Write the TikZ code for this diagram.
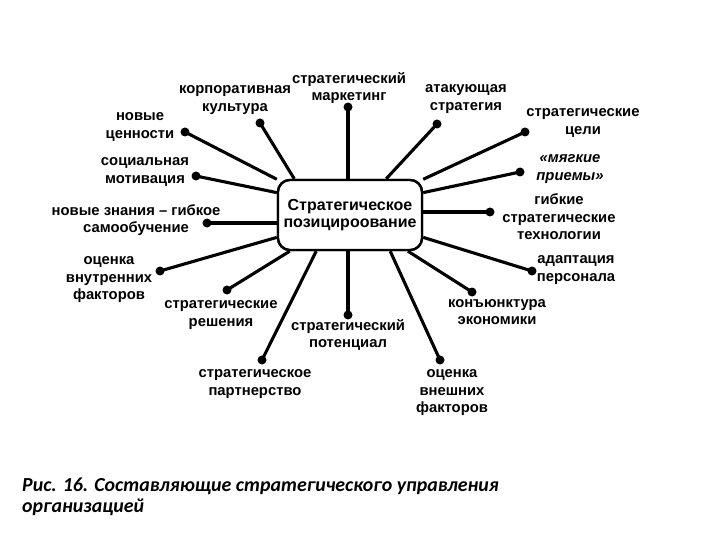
\documentclass[tikz,border=0pt]{standalone}
\usepackage{fontspec}
\setmainfont{Liberation Sans}
\newfontfamily\capfont{Carlito}
\begin{document}
\begin{tikzpicture}[x=1pt,y=-1pt,
  lbl/.style={align=center,inner sep=0pt,font=\fontsize{14.8}{17.5}\selectfont\bfseries},
  dot/.style={circle,fill=black,inner sep=0pt,minimum size=9pt},
  conn/.style={line width=3.1pt},
  hub/.style={draw,line width=2.4pt,rounded corners=12pt,fill=white,minimum width=144pt,minimum height=70pt,inner sep=0pt,align=center,font=\fontsize{16}{17}\selectfont\bfseries}]
\useasboundingbox (0,0) rectangle (720,540);
\fill[white] (0,0) rectangle (720,540);
\node[hub] (c) at (350,215) {};
% dots
\node[dot] (d1) at (185,132) {};
\node[dot] (d2) at (260,123) {};
\node[dot] (d3) at (348,107) {};
\node[dot] (d4) at (437,124) {};
\node[dot] (d5) at (525,132) {};
\node[dot] (d6) at (520,172) {};
\node[dot] (d7) at (490,212) {};
\node[dot] (d8) at (532,271) {};
\node[dot] (d9) at (472,292) {};
\node[dot] (d10) at (440,360) {};
\node[dot] (d11) at (348,315) {};
\node[dot] (d12) at (262,360) {};
\node[dot] (d13) at (227,290) {};
\node[dot] (d14) at (160,271) {};
\node[dot] (d15) at (207,223) {};
\node[dot] (d16) at (196,176) {};
% connectors
\draw[conn] (d1.center) -- (c.154);
\draw[conn] (d2.center) -- (c.147.5);
\draw[conn] (d3.center) -- (c.north -| d3);
\draw[conn] (d4.center) -- (c.45);
\draw[conn] (d5.center) -- (c.26);
\draw[conn] (d6.center) -- (c.17);
\draw[conn] (d7.center) -- (c.east |- d7);
\draw[conn] (d8.center) -- (c.-17);
\draw[conn] (d9.center) -- (c.-32);
\draw[conn] (d10.center) -- (c.-42);
\draw[conn] (d11.center) -- (c.south -| d11);
\draw[conn] (d12.center) -- (c.227);
\draw[conn] (d13.center) -- (c.211);
\draw[conn] (d14.center) -- (c.197);
\draw[conn] (d15.center) -- (c.west |- d15);
\draw[conn] (d16.center) -- (c.163);
\node[hub] (c2) at (c) {Стратегическое\\позицироование};
% labels
\node[lbl] (l1) at (349,88) {стратегический\\маркетинг};
\node[lbl] (l2) at (235,100) {корпоративная\\культура};
\node[lbl] (l3) at (140,127) {новые\\ценности};
\node[lbl] (l4) at (466,99) {атакующая\\стратегия};
\node[lbl] (l5) at (583,123) {стратегические\\цели};
\node[lbl,font=\fontsize{14.8}{17.5}\selectfont\bfseries\itshape] (l6) at (570,169) {«мягкие\\приемы»};
\node[lbl] (l7) at (559,217) {гибкие\\стратегические\\технологии};
\node[lbl] (l8) at (576,270) {адаптация\\персонала};
\node[lbl] (l9) at (497,312) {конъюнктура\\экономики};
\node[lbl] (l10) at (452,393) {оценка\\внешних\\факторов};
\node[lbl] (l11) at (348,335) {стратегический\\потенциал};
\node[lbl] (l12) at (255,384) {стратегическое\\партнерство};
\node[lbl] (l13) at (221,315) {стратегические\\решения};
\node[lbl] (l14) at (109,280) {оценка\\внутренних\\факторов};
\node[lbl] (l15) at (136,220) {новые знания – гибкое\\самообучение};
\node[lbl] (l16) at (145,172) {социальная\\мотивация};
% caption
\node[anchor=north west,align=left,inner sep=0pt,font=\capfont\fontsize{19.9}{21}\selectfont\bfseries\itshape] (cap) at (22,478) {Рис. 16. Составляющие стратегического управления\\организацией};
\end{tikzpicture}
\end{document}
